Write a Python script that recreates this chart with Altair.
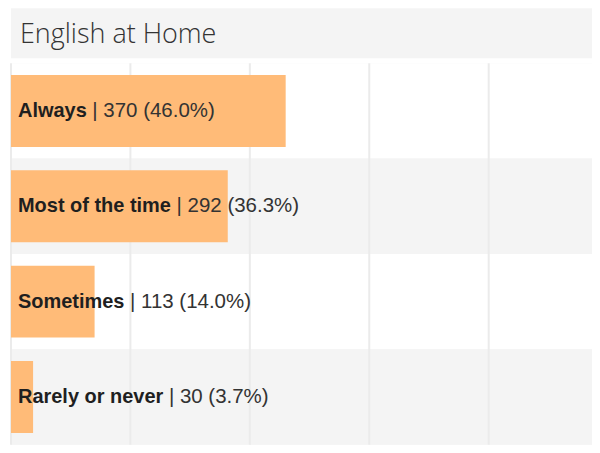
import altair as alt
import pandas as pd

# ---- data ----
title_text = "English at Home"
categories = ["Always", "Most of the time", "Sometimes", "Rarely or never"]
counts = [370, 292, 113, 30]
percents = [46.0, 36.3, 14.0, 3.7]
grid_ticks = [0, 20, 40, 60, 80]

# ---- layout / style ----
W, H = 582, 382
TOP_H = 50
LABEL_SIZE = 20
LABEL_X = 7
BAR_COLOR = "#FFBB78"
BAND_GRAY = "#f4f4f4"

# Arial/Liberation Sans Bold advance widths (per 1000 em) used to place the
# regular-weight part of each label right after the bold category name.
BOLD_W = {"A": 722, "M": 833, "R": 722, "S": 667, "a": 556, "e": 556, "f": 333,
          "h": 611, "i": 278, "l": 278, "m": 889, "n": 611, "o": 611, "r": 389,
          "s": 556, "t": 333, "v": 556, "w": 778, "y": 556, " ": 278}


def bold_width(s):
    return sum(BOLD_W.get(c, 600) for c in s) * LABEL_SIZE / 1000.0


df = pd.DataFrame({
    "category": categories,
    "count": counts,
    "pct": percents,
})
df["order"] = range(len(df))
df["shade"] = df["order"] % 2
df["rest"] = [f"| {c} ({p:.1f}%)" for c, p in zip(counts, percents)]
df["xoff"] = [LABEL_X + bold_width(c + " ") for c in categories]

ticks_df = pd.DataFrame({"tick": grid_ticks})

y_enc = alt.Y("category:N", sort=categories, axis=None,
              scale=alt.Scale(paddingInner=0, paddingOuter=0))
x_scale = alt.Scale(domain=[0, 97.3], nice=False, zero=True)

base = alt.Chart(df)

bands = base.mark_rect().encode(
    y=y_enc,
    x=alt.value(0),
    x2=alt.value(W),
    color=alt.Color("shade:N", scale=alt.Scale(domain=[0, 1], range=["#ffffff", BAND_GRAY]), legend=None),
)

grid = alt.Chart(ticks_df).mark_rule(color="#ebebeb", strokeWidth=2).encode(
    x=alt.X("tick:Q", scale=x_scale, axis=None),
    y=alt.value(0),
    y2=alt.value(H),
)

bars = base.mark_bar(size=72, color=BAR_COLOR).encode(
    y=y_enc,
    x=alt.X("pct:Q", scale=x_scale, axis=None),
)

bold_text = base.mark_text(
    align="left", baseline="middle", font="Liberation Sans",
    fontSize=LABEL_SIZE, fontWeight="bold", color="#1f1f1f",
).encode(
    y=y_enc,
    x=alt.value(LABEL_X),
    text="category:N",
)

rest_text = base.mark_text(
    align="left", baseline="middle", font="Liberation Sans",
    fontSize=LABEL_SIZE + 0.5, color="#333333",
).encode(
    y=y_enc,
    x=alt.X("xoff:Q", scale=None),
    text="rest:N",
)

main = alt.layer(bands, grid, bars, bold_text, rest_text).properties(width=W, height=H)

title_chart = alt.Chart(pd.DataFrame({"t": [title_text]})).mark_text(
    align="left", baseline="alphabetic", font="Open Sans", fontSize=27,
    fontWeight=300, color="#333333",
).encode(
    x=alt.value(9),
    y=alt.value(35),
    text="t:N",
).properties(width=W, height=TOP_H)

chart = alt.vconcat(title_chart, main, spacing=4).properties(
    padding={"left": 2, "top": 0, "right": 0, "bottom": 0}
).configure_view(fill=BAND_GRAY, strokeWidth=0)

chart.save("out.html", embed_options={"renderer": "svg", "actions": False})
